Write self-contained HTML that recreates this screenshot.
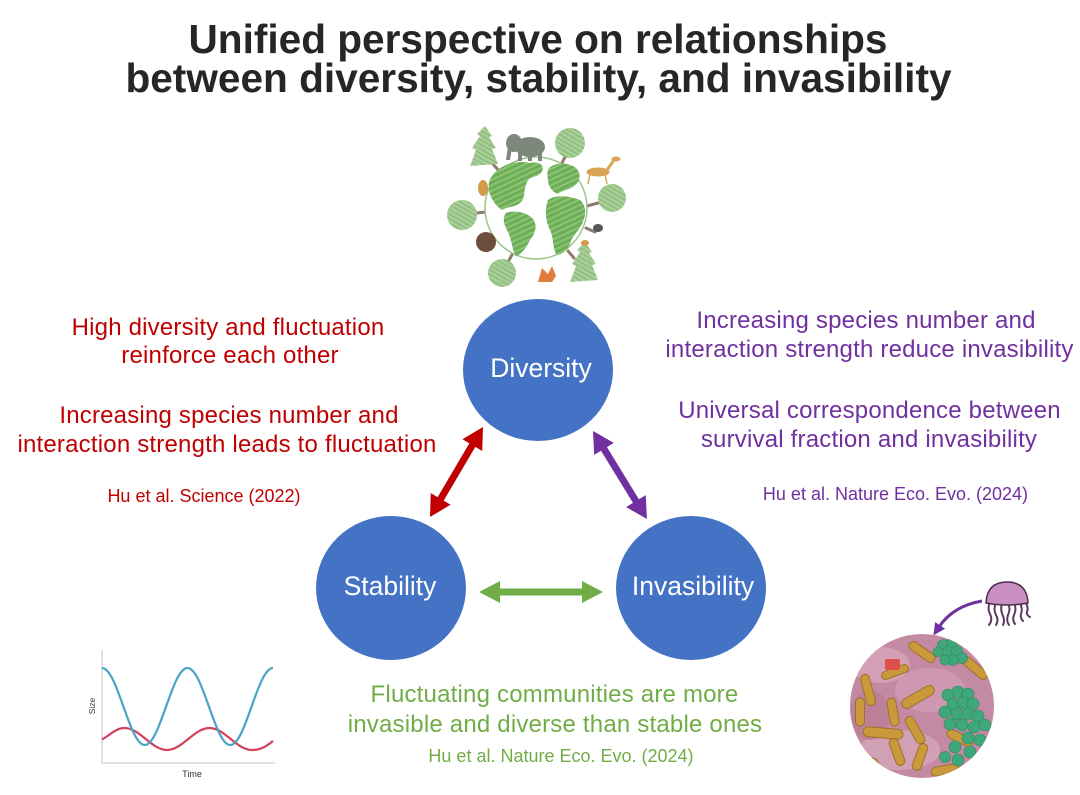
<!DOCTYPE html>
<html>
<head>
<meta charset="utf-8">
<style>
  html,body{margin:0;padding:0;background:#fff;}
  svg{display:block;}
  text{font-family:"Liberation Sans",Arial,sans-serif;}
</style>
</head>
<body>
<svg width="1080" height="795" viewBox="0 0 1080 795" xmlns="http://www.w3.org/2000/svg">
  <defs>
    <pattern id="hatch" width="5" height="5" patternUnits="userSpaceOnUse" patternTransform="rotate(-25)">
      <rect width="5" height="5" fill="#6fae58"/>
      <rect width="5" height="1.6" fill="#8fc878"/>
    </pattern>
    <pattern id="treehatch" width="4" height="4" patternUnits="userSpaceOnUse" patternTransform="rotate(30)">
      <rect width="4" height="4" fill="#a9cf98"/>
      <rect width="4" height="1.4" fill="#8dbb7c"/>
    </pattern>
    <clipPath id="bclip"><circle cx="922" cy="706" r="72"/></clipPath>
    <marker id="pah" markerWidth="12" markerHeight="12" refX="2" refY="6" orient="auto" markerUnits="userSpaceOnUse">
      <path d="M0,0 L12,6 L0,12 Z" fill="#7030a0"/>
    </marker>
  </defs>

  <rect width="1080" height="795" fill="#fff"/>

  <!-- Title -->
  <text x="538" y="53" text-anchor="middle" font-size="40.6" font-weight="bold" fill="#262626">Unified perspective on relationships</text>
  <text x="538.5" y="92" text-anchor="middle" font-size="40.6" font-weight="bold" fill="#262626">between diversity, stability, and invasibility</text>

  <!-- Globe -->
  <g>
    <g stroke="#8d7b6c" stroke-width="3" stroke-linecap="round">
      <line x1="492" y1="163" x2="500" y2="172"/>
      <line x1="565" y1="157" x2="560" y2="167"/>
      <line x1="598" y1="203" x2="587" y2="206"/>
      <line x1="477" y1="213" x2="486" y2="212"/>
      <line x1="508" y1="262" x2="513" y2="253"/>
      <line x1="574" y1="258" x2="568" y2="251"/>
      <line x1="595" y1="232" x2="586" y2="228"/>
    </g>
    <circle cx="536" cy="208" r="51" fill="#fff" stroke="#9cc48c" stroke-width="1.5"/>
    <path d="M492,176 C500,164 518,160 530,163 C540,161 546,166 541,173 C536,178 530,176 527,182 C523,190 526,198 520,203 C514,208 508,206 502,210 C496,206 490,198 489,190 C488,184 489,180 492,176 Z" fill="url(#hatch)"/>
    <path d="M506,213 C514,210 526,212 532,218 C538,224 536,232 530,240 C526,248 522,254 516,256 C512,250 512,240 508,232 C504,225 502,218 506,213 Z" fill="url(#hatch)"/>
    <path d="M549,168 C556,162 568,162 576,168 C582,174 580,182 574,186 C570,190 562,190 558,194 C552,192 548,186 548,180 C547,175 547,171 549,168 Z" fill="url(#hatch)"/>
    <path d="M548,200 C556,194 570,196 580,200 C587,206 586,216 582,224 C578,232 572,236 570,244 C566,252 560,256 556,254 C552,246 554,238 550,230 C546,222 544,210 548,200 Z" fill="url(#hatch)"/>
    <path d="M470,166 L476,150 L472,148 L480,136 L477,134 L485,126 L492,136 L489,137 L496,148 L492,149 L498,164 Z" fill="url(#treehatch)"/>
    <circle cx="570" cy="143" r="15" fill="url(#treehatch)"/>
    <circle cx="612" cy="198" r="14" fill="url(#treehatch)"/>
    <circle cx="462" cy="215" r="15" fill="url(#treehatch)"/>
    <circle cx="502" cy="273" r="14" fill="url(#treehatch)"/>
    <path d="M570,282 L576,266 L572,264 L580,252 L577,250 L585,242 L592,252 L589,253 L596,264 L592,265 L598,280 Z" fill="url(#treehatch)"/>
    <g fill="#7d877c">
      <ellipse cx="530" cy="147" rx="15" ry="10"/>
      <ellipse cx="514" cy="143" rx="8" ry="9"/>
      <path d="M508,146 L506,160 L510,160 L512,148 Z"/>
      <rect x="518" y="152" width="4" height="9"/>
      <rect x="538" y="152" width="4" height="9"/>
      <rect x="528" y="153" width="4" height="8"/>
    </g>
    <g fill="#d8a557" stroke="#d8a557">
      <ellipse cx="598" cy="172" rx="11" ry="4"/>
      <line x1="607" y1="170" x2="614" y2="160" stroke-width="3"/>
      <ellipse cx="616" cy="159" rx="4" ry="2"/>
      <line x1="590" y1="174" x2="588" y2="184" stroke-width="1.5"/>
      <line x1="605" y1="174" x2="607" y2="184" stroke-width="1.5"/>
    </g>
    <ellipse cx="483" cy="188" rx="5" ry="8" fill="#d39a4e"/>
    <ellipse cx="486" cy="242" rx="10" ry="10" fill="#6b4e3c"/>
    <ellipse cx="598" cy="228" rx="5" ry="4" fill="#555"/>
    <ellipse cx="585" cy="243" rx="4" ry="3" fill="#d39a4e"/>
    <path d="M538,282 L542,268 L548,274 L552,266 L556,276 L552,282 Z" fill="#e07c3c"/>
  </g>

  <!-- Circles -->
  <ellipse cx="538" cy="370" rx="75" ry="71" fill="#4472c4"/>
  <ellipse cx="391" cy="588" rx="75" ry="72" fill="#4472c4"/>
  <ellipse cx="691" cy="588" rx="75" ry="72" fill="#4472c4"/>
  <text x="541" y="377" text-anchor="middle" font-size="26.5" fill="#fff">Diversity</text>
  <text x="390" y="595" text-anchor="middle" font-size="26.5" fill="#fff">Stability</text>
  <text x="693" y="595" text-anchor="middle" font-size="26.5" fill="#fff">Invasibility</text>

  <!-- Arrows -->
  <polygon transform="translate(430,517) rotate(-59.5)" points="0,0 21,-11.5 21,-3.5 83.4,-3.5 83.4,-11.5 104.4,0 83.4,11.5 83.4,3.5 21,3.5 21,11.5" fill="#c00000"/>
  <polygon transform="translate(593,431) rotate(58.5)" points="0,0 21,-11.5 21,-3.5 82.2,-3.5 82.2,-11.5 103.2,0 82.2,11.5 82.2,3.5 21,3.5 21,11.5" fill="#7030a0"/>
  <polygon transform="translate(479,592)" points="0,0 21,-11 21,-3.5 103,-3.5 103,-11 124,0 103,11 103,3.5 21,3.5 21,11" fill="#70ad47"/>

  <!-- Red text -->
  <g fill="#c00000" font-size="24" text-anchor="middle" letter-spacing="0.2">
    <text x="228" y="335">High diversity and fluctuation</text>
    <text x="230" y="363">reinforce each other</text>
    <text x="229" y="423">Increasing species number and</text>
    <text x="227" y="452">interaction strength leads to fluctuation</text>
    <text x="204" y="502" font-size="18" letter-spacing="0">Hu et al. Science (2022)</text>
  </g>

  <!-- Purple text -->
  <g fill="#7030a0" font-size="24" text-anchor="middle" letter-spacing="0.2">
    <text x="866" y="328">Increasing species number and</text>
    <text x="869.5" y="357">interaction strength reduce invasibility</text>
    <text x="869.5" y="418">Universal correspondence between</text>
    <text x="869" y="447">survival fraction and invasibility</text>
    <text x="895.5" y="500" font-size="18" letter-spacing="0">Hu et al. Nature Eco. Evo. (2024)</text>
  </g>

  <!-- Green text -->
  <g fill="#70ad47" font-size="24" text-anchor="middle" letter-spacing="0.2">
    <text x="554.5" y="702">Fluctuating communities are more</text>
    <text x="555" y="732">invasible and diverse than stable ones</text>
    <text x="561" y="762" font-size="18" letter-spacing="0">Hu et al. Nature Eco. Evo. (2024)</text>
  </g>

  <!-- Graph -->
  <g>
    <polyline points="102,650 102,763 275,763" fill="none" stroke="#cfcfcf" stroke-width="1.2"/>
    <path d="M102,739.5 C110,735 116,728 124.5,728 C140,728 151.5,750 167,750 C182.5,750 194,728 209.5,728 C225,728 236.5,750 252,750 C262,750 268,745 273,741" fill="none" stroke="#d2405a" stroke-width="2.2"/>
    <path d="M102,668 C117.6,668 129.2,745 144.75,745 C160.3,745 171.9,668 187.5,668 C203.1,668 214.7,745 230.25,745 C245.8,745 257.4,668 273,668" fill="none" stroke="#4aa3c4" stroke-width="2.2"/>
    <text x="0" y="0" transform="translate(95,706) rotate(-90)" text-anchor="middle" font-size="8.5" fill="#333">Size</text>
    <text x="192" y="777" text-anchor="middle" font-size="9" fill="#333">Time</text>
  </g>

  <!-- Bacteria -->
  <g clip-path="url(#bclip)">
    <rect x="840" y="630" width="170" height="160" fill="#c48aa3"/>
    <ellipse cx="880" cy="665" rx="30" ry="18" fill="#d3a0b6"/>
    <ellipse cx="930" cy="690" rx="35" ry="22" fill="#cf98b0"/>
    <ellipse cx="900" cy="750" rx="40" ry="20" fill="#d2a0b5"/>
    <ellipse cx="870" cy="715" rx="20" ry="25" fill="#bd8099"/>
    <g fill="#c9993c" stroke="#9c7228" stroke-width="1">
      <rect x="-15" y="-4.5" width="30" height="9" rx="4.5" transform="translate(922,652) rotate(35)"/>
      <rect x="-16" y="-4.5" width="32" height="9" rx="4.5" transform="translate(868,690) rotate(75)"/>
      <rect x="-14" y="-4.5" width="28" height="9" rx="4.5" transform="translate(860,712) rotate(90)"/>
      <rect x="-14" y="-4.5" width="28" height="9" rx="4.5" transform="translate(893,712) rotate(80)"/>
      <rect x="-18" y="-5" width="36" height="10" rx="5" transform="translate(918,697) rotate(-30)"/>
      <rect x="-15" y="-4.5" width="30" height="9" rx="4.5" transform="translate(915,730) rotate(60)"/>
      <rect x="-20" y="-5" width="40" height="10" rx="5" transform="translate(883,733) rotate(5)"/>
      <rect x="-14" y="-4.5" width="28" height="9" rx="4.5" transform="translate(897,752) rotate(70)"/>
      <rect x="-14" y="-4.5" width="28" height="9" rx="4.5" transform="translate(920,757) rotate(-70)"/>
      <rect x="-14" y="-4.5" width="28" height="9" rx="4.5" transform="translate(865,760) rotate(20)"/>
      <rect x="-15" y="-4.5" width="30" height="9" rx="4.5" transform="translate(975,668) rotate(40)"/>
      <rect x="-14" y="-4.5" width="28" height="9" rx="4.5" transform="translate(960,738) rotate(25)"/>
      <rect x="-14" y="-4.5" width="28" height="9" rx="4.5" transform="translate(945,770) rotate(-10)"/>
      <rect x="-14" y="-4" width="28" height="8" rx="4" transform="translate(895,672) rotate(-20)"/>
    </g>
    <rect x="885" y="659" width="15" height="11" rx="2" fill="#e0504a"/>
    <g fill="#3ea87a" stroke="#2c8a60" stroke-width="0.6">
      <circle cx="943" cy="645" r="5.5"/><circle cx="952" cy="643" r="5.5"/><circle cx="948" cy="652" r="5.5"/>
      <circle cx="957" cy="651" r="5.5"/><circle cx="962" cy="658" r="5.5"/><circle cx="953" cy="660" r="5.5"/>
      <circle cx="945" cy="660" r="5"/><circle cx="938" cy="652" r="5"/>
      <circle cx="948" cy="695" r="6"/><circle cx="958" cy="692" r="6"/><circle cx="968" cy="694" r="6"/>
      <circle cx="953" cy="704" r="6"/><circle cx="963" cy="703" r="6"/><circle cx="973" cy="704" r="6"/>
      <circle cx="945" cy="712" r="6"/><circle cx="957" cy="714" r="6"/><circle cx="968" cy="714" r="6"/>
      <circle cx="978" cy="716" r="6"/><circle cx="950" cy="724" r="6"/><circle cx="962" cy="725" r="6"/>
      <circle cx="974" cy="727" r="6"/><circle cx="985" cy="725" r="6"/><circle cx="968" cy="738" r="6"/>
      <circle cx="980" cy="740" r="6"/><circle cx="955" cy="747" r="6"/><circle cx="970" cy="752" r="6"/>
      <circle cx="958" cy="760" r="6"/><circle cx="945" cy="757" r="5.5"/>
    </g>
  </g>

  <!-- Jellyfish -->
  <g>
    <g fill="none" stroke="#5c3a5c" stroke-width="2" stroke-linecap="round">
      <path d="M990,602 q-3,6 0,12 q3,6 -1,11"/>
      <path d="M996,603 q-3,6 0,12 q3,5 0,10"/>
      <path d="M1002,603 q-2,7 1,13 q2,5 0,9"/>
      <path d="M1008,603 q3,6 0,12 q-2,6 1,10"/>
      <path d="M1014,603 q3,6 0,12 q-2,5 1,9"/>
      <path d="M1020,603 q3,6 1,11 q-1,4 2,7"/>
      <path d="M1025,602 q4,5 2,10 q-1,3 3,5"/>
    </g>
    <path d="M986,603 Q987,582 1007,582 Q1027,582 1028,603 Q1007,607 986,603 Z" fill="#c98fc3" stroke="#4d2d4d" stroke-width="1.5"/>
  </g>
  <path d="M982,601 Q953,606 939,627" fill="none" stroke="#7030a0" stroke-width="3" marker-end="url(#pah)"/>
</svg>
</body>
</html>
